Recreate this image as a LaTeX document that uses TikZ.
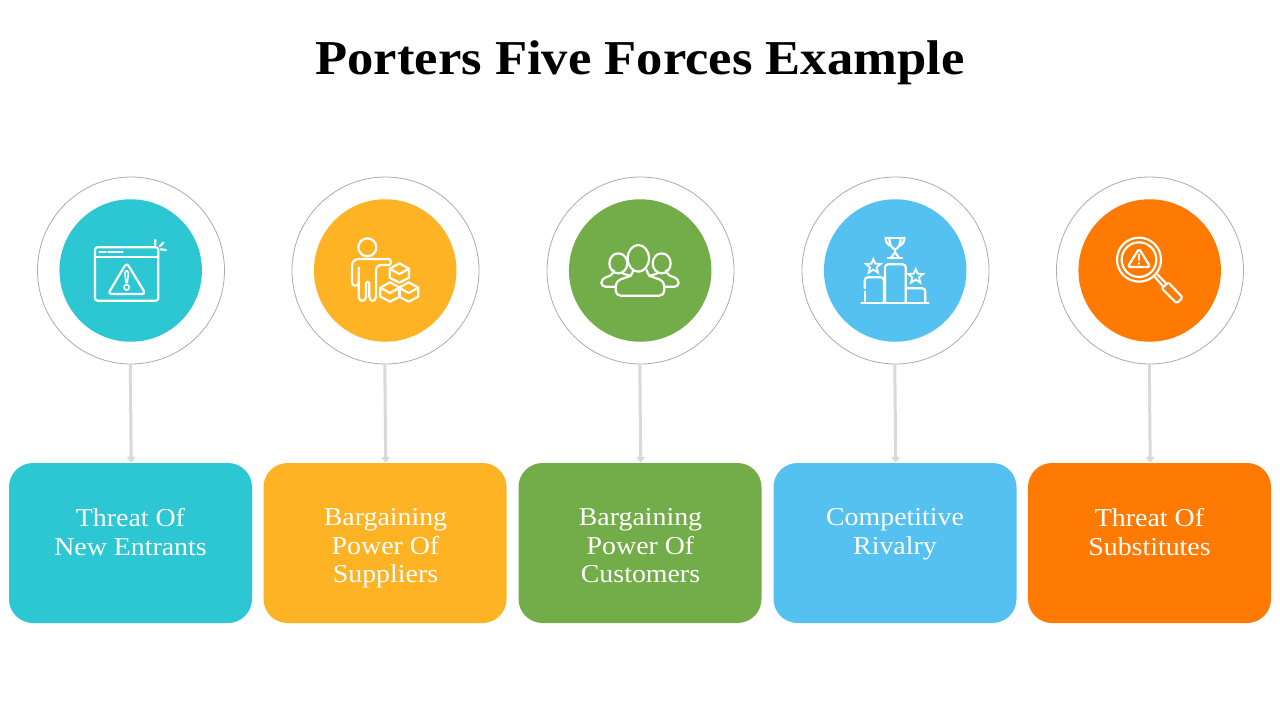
\documentclass[tikz,border=0pt]{standalone}
\usepackage{fontspec}
\setmainfont[FakeStretch=1.08]{Liberation Serif}
\usetikzlibrary{arrows.meta}
\definecolor{cteal}{HTML}{2CC7D3}
\definecolor{cyellow}{HTML}{FDB323}
\definecolor{cgreen}{HTML}{72AD4A}
\definecolor{cblue}{HTML}{55C1F0}
\definecolor{corange}{HTML}{FF7A03}
\definecolor{cline}{HTML}{D9D9D9}
\definecolor{cring}{HTML}{ABABAB}
\tikzset{
  ring/.style={circle,draw=cring,line width=.8pt,fill=white,minimum size=187pt,inner sep=0pt},
  disc/.style={circle,fill=#1,minimum size=142.5pt,inner sep=0pt},
  card/.style={rectangle,rounded corners=24pt,fill=#1,minimum width=243pt,minimum height=160pt,inner sep=0pt},
  cardtext/.style={text=white,align=center,anchor=north,inner sep=0pt,font=\fontsize{25.8}{28.5}\selectfont,execute at begin node=\strut},
  link/.style={draw=cline,line width=3pt,-{Triangle[length=6pt,width=9pt]}},
  ico/.style={draw=white,line width=2.2pt,line cap=round,line join=round},
  title/.style={font=\fontsize{48.7}{56}\selectfont\bfseries,text=black}
}
\begin{document}
\begin{tikzpicture}[x=1pt,y=-1pt]
\useasboundingbox[fill=white] (0,0) rectangle (1280,720);
\node[title] (t) at (640,63) {Porters Five Forces Example};
% rings and discs
\node[ring] (o1) at (131,270.5) {};
\node[ring] (o2) at (385.5,270.5) {};
\node[ring] (o3) at (640.5,270.5) {};
\node[ring] (o4) at (895.5,270.5) {};
\node[ring] (o5) at (1150,270.5) {};
\node[disc=cteal] (d1) at (130.7,270.5) {};
\node[disc=cyellow] (d2) at (385.2,270.5) {};
\node[disc=cgreen] (d3) at (640.2,270.5) {};
\node[disc=cblue] (d4) at (895.2,270.5) {};
\node[disc=corange] (d5) at (1149.7,270.5) {};
% cards
\node[card=cteal] (r1) at (130.5,543) {};
\node[card=cyellow] (r2) at (385,543) {};
\node[card=cgreen] (r3) at (640,543) {};
\node[card=cblue] (r4) at (895,543) {};
\node[card=corange] (r5) at (1149.5,543) {};
\node[cardtext] (l1) at (130.5,508.5) {Threat Of\\New Entrants};
\node[cardtext] (l2) at (385.5,508.5) {Bargaining\\Power Of\\Suppliers};
\node[cardtext] (l3) at (640.5,508.5) {Bargaining\\Power Of\\Customers};
\node[cardtext] (l4) at (895,508.5) {Competitive\\Rivalry};
\node[cardtext] (l5) at (1149.5,508.5) {Threat Of\\Substitutes};
% connectors
\foreach \i in {1,...,5}{
  \draw[link] ([xshift=-.7pt]o\i.south) -- ([xshift=.7pt]r\i.north);
}
% icon 1: browser warning
\begin{scope}[shift={(30,170)},scale=1/3,ico]
  \draw[rounded corners=2.5pt] (195,232) rectangle (385,392);
  \draw (195,262) -- (385,262);
  \draw (208,246) -- (228,246) (235,246) -- (255,246) (260,246) -- (278,246);
  \draw[rounded corners=3.5pt] (290,278) -- (347,372) -- (234,372) -- cycle;
  \draw[line width=1.6pt,rounded corners=1.5pt] (284,303) -- (296,303) -- (292,338) -- (288,338) -- cycle;
  \draw[line width=1.6pt] (290,352) circle (8);
  \draw (376,210) -- (376,225) (400,218) -- (390,228) (408,240) -- (392,238);
\end{scope}
% icon 2: person with boxes
\begin{scope}[shift={(310,195)},scale=1/3,ico]
  \draw (172,157) circle (27);
  \draw[rounded corners=3pt] (146,262) -- (146,272) -- (126,272) -- (126,212);
  \draw (126,212) .. controls (126,200) and (134,192) .. (148,192) -- (236,192) .. controls (245,192) and (245,210) .. (236,210) -- (215,210) .. controls (204,210) and (198,216) .. (198,228);
  \draw (146,218) -- (146,305) .. controls (146,322) and (168,322) .. (168,305) -- (168,268) .. controls (168,258) and (178,258) .. (178,268) -- (178,305) .. controls (178,322) and (198,322) .. (198,305) -- (198,228);
  \foreach \cx/\cy in {268/232,240/289,296/289}{
    \draw (\cx,\cy-27) -- (\cx+29,\cy-11) -- (\cx+29,\cy+16) -- (\cx,\cy+31) -- (\cx-29,\cy+16) -- (\cx-29,\cy-11) -- cycle;
    \draw (\cx-29,\cy-11) -- (\cx,\cy+5) -- (\cx+29,\cy-11);
  }
\end{scope}
% icon 3: group
\begin{scope}[shift={(565,195)},scale=1/3,ico]
  \draw (220,190) ellipse (32 and 40);
  \draw[rounded corners=5pt] (205,228) -- (205,240) -- (152,258) -- (152,302) -- (298,302) -- (298,258) -- (245,240) -- (245,228);
  \draw (160,205) ellipse (27 and 30);
  \draw (290,205) ellipse (27 and 30);
  \draw[rounded corners=4pt] (146,230) -- (146,238) -- (109,252) -- (109,275) -- (152,275);
  \draw[rounded corners=4pt] (304,230) -- (304,238) -- (341,252) -- (341,275) -- (298,275);
  \draw (174,230) -- (174,236) -- (198,243);
  \draw (276,230) -- (276,236) -- (252,243);
\end{scope}
% icon 4: podium
\begin{scope}[shift={(820,195)},scale=1/3,ico]
  \draw (124,324) -- (326,324);
  \draw (134,318) -- (134,290);
  \draw[rounded corners=3pt] (134,280) -- (134,247) -- (192,247) -- (192,322);
  \draw[rounded corners=3pt] (195,322) -- (195,208) -- (257,208) -- (257,322);
  \draw[rounded corners=3pt] (257,280) -- (316,280) -- (316,322);
  \draw[line width=1.8pt,line join=miter] (160,192) -- (166,206) -- (182,207) -- (170,217) -- (174,233) -- (160,224) -- (146,233) -- (150,217) -- (138,207) -- (154,206) -- cycle;
  \draw[line width=1.8pt,line join=miter] (287,222) -- (293,236) -- (309,237) -- (297,247) -- (301,263) -- (287,254) -- (273,263) -- (277,247) -- (265,237) -- (281,236) -- cycle;
  \draw (196,128) -- (254,128);
  \draw (208,128) .. controls (208,150) and (215,160) .. (225,163) .. controls (235,160) and (242,150) .. (242,128);
  \draw (197,128) .. controls (197,142) and (203,150) .. (213,153);
  \draw (253,128) .. controls (253,142) and (247,150) .. (237,153);
  \draw (225,163) -- (225,172) -- (212,190);
  \draw (225,172) -- (238,190);
  \draw (203,190) -- (247,190);
\end{scope}
% icon 5: magnifier
\begin{scope}[shift={(1075,195)},scale=1/3,ico]
  \draw (192,194) circle (66);
  \draw (192,194) circle (52);
  \draw[rounded corners=2.5pt] (192,161) -- (226,216) -- (158,216) -- cycle;
  \draw (192,178) -- (192,195);
  \draw[line width=2.4pt] (192,205) -- (192,206);
  \draw (238,244) -- (262,272) (247,238) -- (272,264);
  \draw[rounded corners=1.5pt] (260,280) -- (280,262) -- (323,308) -- (305,325) -- cycle;
\end{scope}
\end{tikzpicture}
\end{document}
